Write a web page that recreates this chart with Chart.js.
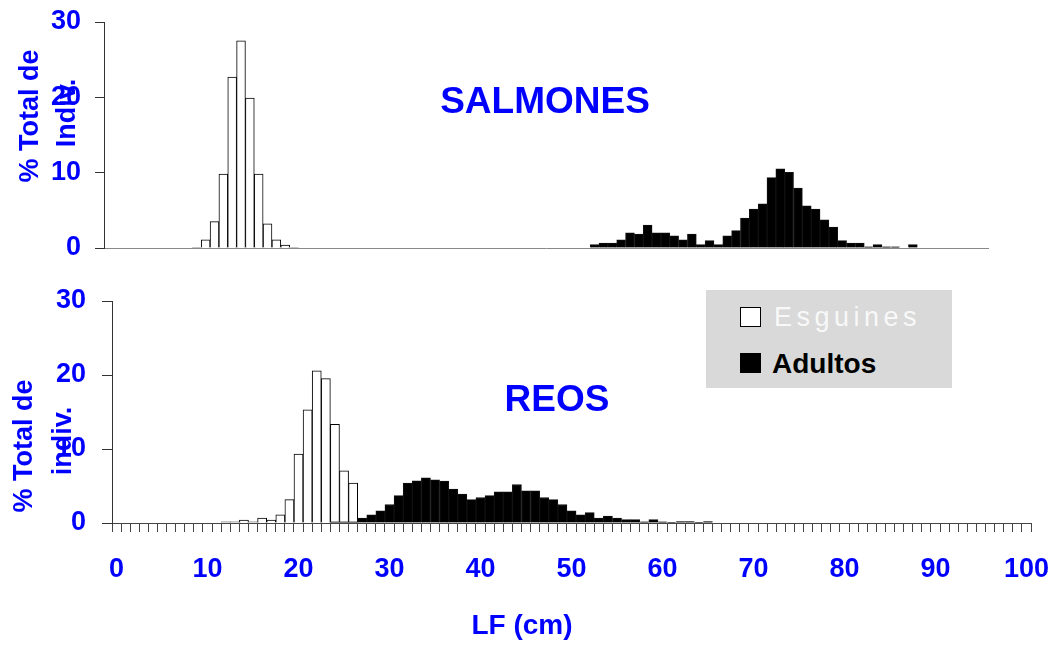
<!DOCTYPE html>
<html lang="es">
<head>
<meta charset="UTF-8">
<title>Salmones y reos - LF</title>
<script src="https://cdn.jsdelivr.net/npm/chart.js"></script>
<style>
  html, body { margin: 0; padding: 0; background: #fff; }
  body { width: 1059px; height: 646px; position: relative; overflow: hidden;
         font-family: "Liberation Sans", Arial, sans-serif; }
  canvas { position: absolute; left: 0; }
  #topChart { top: 0; }
  #bottomChart { top: 270px; }
  .lbl { position: absolute; color: #0000ff; font-weight: bold; line-height: 1;
         white-space: nowrap; transform: translate(-50%, -50%); }
  .rot { transform: translate(-50%, -50%) rotate(-90deg); font-size: 27px; }
  .legend { position: absolute; left: 706px; top: 290px; width: 246px; height: 98px; background: #d9d9d9; }
  .legend .box { position: absolute; left: 34px; width: 21px; height: 20px; box-sizing: border-box; border: 1px solid #000; }
  .legend .txt { position: absolute; line-height: 1; white-space: nowrap; }
</style>
</head>
<body>
<canvas id="topChart" width="1059" height="270"></canvas>
<canvas id="bottomChart" width="1059" height="376"></canvas>

<div class="lbl" style="left:545px; top:100px; font-size:37px;">SALMONES</div>
<div class="lbl" style="left:557px; top:398px; font-size:37px;">REOS</div>
<div class="lbl" style="left:522px; top:625px; font-size:28px;">LF (cm)</div>

<div class="lbl rot" style="left:29px; top:116px;">% Total de</div>
<div class="lbl rot" style="left:66px; top:113px;">Indiv.</div>
<div class="lbl rot" style="left:23px; top:446px;">% Total de</div>
<div class="lbl rot" style="left:62px; top:441px;">indiv.</div>

<div class="legend">
  <div class="box" style="top:17px; background:#fff;"></div>
  <div class="txt" style="left:68px; top:14px; font-size:27px; color:#f8f8f8; letter-spacing:4.5px;">Esguines</div>
  <div class="box" style="top:63px; background:#000;"></div>
  <div class="txt" style="left:66px; top:60px; font-size:28px; font-weight:bold; color:#000;">Adultos</div>
</div>

<script>
// clases de longitud (cm)
const clasesSalmones = [
  0, 1, 2, 3, 4, 5, 6, 7, 8, 9, 10, 11, 12, 13, 14, 15, 16, 17, 18, 19,
  20, 21, 22, 23, 24, 25, 26, 27, 28, 29, 30, 31, 32, 33, 34, 35, 36, 37, 38, 39,
  40, 41, 42, 43, 44, 45, 46, 47, 48, 49, 50, 51, 52, 53, 54, 55, 56, 57, 58, 59,
  60, 61, 62, 63, 64, 65, 66, 67, 68, 69, 70, 71, 72, 73, 74, 75, 76, 77, 78, 79,
  80, 81, 82, 83, 84, 85, 86, 87, 88, 89, 90, 91, 92, 93, 94, 95, 96, 97, 98, 99
];
const clasesReos = [
  0, 1, 2, 3, 4, 5, 6, 7, 8, 9, 10, 11, 12, 13, 14, 15, 16, 17, 18, 19,
  20, 21, 22, 23, 24, 25, 26, 27, 28, 29, 30, 31, 32, 33, 34, 35, 36, 37, 38, 39,
  40, 41, 42, 43, 44, 45, 46, 47, 48, 49, 50, 51, 52, 53, 54, 55, 56, 57, 58, 59,
  60, 61, 62, 63, 64, 65, 66, 67, 68, 69, 70, 71, 72, 73, 74, 75, 76, 77, 78, 79,
  80, 81, 82, 83, 84, 85, 86, 87, 88, 89, 90, 91, 92, 93, 94, 95, 96, 97, 98, 99, 100
];
const yTicks = [0, 10, 20, 30];

// SALMONES
const salmonEsguinesLF  = [10, 11, 12, 13, 14, 15, 16, 17, 18, 19, 20, 21];
const salmonEsguinesPct = [0.1, 1.1, 3.5, 9.8, 22.7, 27.5, 19.9, 9.8, 3.2, 1.1, 0.4, 0.1];
const salmonAdultosLF = [55, 56, 57, 58, 59, 60, 61, 62, 63, 64, 65, 66, 67, 68, 69, 70, 71, 72, 73,
  74, 75, 76, 77, 78, 79, 80, 81, 82, 83, 84, 85, 86, 87, 88, 89, 90, 91];
const salmonAdultosPct = [0.44, 0.66, 0.66, 1.1, 2.0, 1.85, 3.05, 2.0, 2.0, 1.63, 1.1, 1.85, 0.44, 0.97,
  0.44, 1.63, 2.3, 3.97, 5.16, 5.87, 9.35, 10.5, 10.06, 7.95, 5.6, 5.16, 3.75, 2.78, 0.97, 0.66,
  0.66, 0.17, 0.44, 0.17, 0.17, 0, 0.44];

// REOS
const reoEsguinesLF  = [12, 13, 14, 15, 16, 17, 18, 19, 20, 21, 22, 23, 24, 25, 26];
const reoEsguinesPct = [0.15, 0.15, 0.4, 0.15, 0.67, 0.4, 1.1, 3.15, 9.3, 15.3, 20.55, 19.5, 13.35, 7.05, 5.4];
const reoAdultosLF = [24, 25, 26, 27, 28, 29, 30, 31, 32, 33, 34, 35, 36, 37, 38, 39, 40, 41, 42, 43, 44,
  45, 46, 47, 48, 49, 50, 51, 52, 53, 54, 55, 56, 57, 58, 59, 60, 61, 62, 63, 64, 65];
const reoAdultosPct = [0.15, 0.15, 0.15, 0.67, 1.1, 1.66, 2.5, 3.7, 5.4, 5.7, 6.1, 5.85, 5.67, 4.6, 3.9,
  3.15, 3.45, 3.7, 4.2, 4.2, 5.2, 4.35, 4.35, 3.45, 3.15, 2.5, 1.66, 1.1, 1.4, 0.67, 0.95, 0.67,
  0.45, 0.45, 0.15, 0.45, 0.15, 0.05, 0.2, 0.2, 0.05, 0.2];

const blue = '#0000ff';
const tickFont = { family: '"Liberation Sans", Arial, sans-serif', size: 27, weight: 'bold' };

function pts(lf, pct) {
  return lf.map((x, i) => ({ x: x, y: pct[i] }));
}

// the chart area is fixed by layout.padding alone, so the label overflow is dropped
function noOverflow(s) {
  s.paddingTop = 0; s.paddingBottom = 0; s.paddingLeft = 0; s.paddingRight = 0;
}

function makeChart(id, labels, esg, adu, o) {
  return new Chart(document.getElementById(id), {
    type: 'bar',
    data: {
      labels: labels,
      datasets: [
        { label: 'Esguines', data: esg, order: 2, backgroundColor: '#fff', borderColor: '#000', borderWidth: 1 },
        { label: 'Adultos', data: adu, order: 1, backgroundColor: '#000', borderColor: '#111', borderWidth: 1 }
      ]
    },
    options: {
      responsive: false,
      animation: false,
      events: [],
      layout: { padding: o.padding },
      datasets: { bar: { categoryPercentage: 1, barPercentage: 1 } },
      plugins: { legend: { display: false }, tooltip: { enabled: false } },
      scales: {
        x: {
          stacked: true,
          afterFit: s => { s.height = o.xHeight; noOverflow(s); },
          grid: o.showXTicks
            ? { display: true, drawOnChartArea: false, offset: true, tickLength: 9, color: '#444' }
            : { display: false, drawTicks: false },
          border: { display: true, color: o.xBorder, width: 1 },
          ticks: o.showXTicks ? {
            autoSkip: false, maxRotation: 0, minRotation: 0, padding: 21,
            color: blue, font: tickFont,
            callback: (v, i) => (i % 10 === 0 ? labels[i] : '')
          } : { display: false }
        },
        y: {
          min: 0, max: 30,
          afterFit: s => { s.width = o.yWidth; noOverflow(s); },
          afterBuildTicks: s => { s.ticks = yTicks.map(v => ({ value: v })); },
          grid: { display: true, drawOnChartArea: false, tickLength: o.yTick, color: '#333' },
          border: { display: true, color: '#333', width: 1 },
          ticks: { padding: o.yPad, color: blue, font: tickFont }
        }
      }
    }
  });
}

makeChart('topChart', clasesSalmones,
  pts(salmonEsguinesLF, salmonEsguinesPct), pts(salmonAdultosLF, salmonAdultosPct),
  { padding: { left: 0, right: 71, top: 22, bottom: 22 }, xHeight: 0, yWidth: 104,
    yTick: 9, yPad: 14, showXTicks: false, xBorder: '#888' });

makeChart('bottomChart', clasesReos,
  pts(reoEsguinesLF, reoEsguinesPct), pts(reoAdultosLF, reoAdultosPct),
  { padding: { left: 0, right: 28, top: 31, bottom: 63 }, xHeight: 60, yWidth: 112,
    yTick: 10, yPad: 16, showXTicks: true, xBorder: '#444' });
</script>
</body>
</html>
